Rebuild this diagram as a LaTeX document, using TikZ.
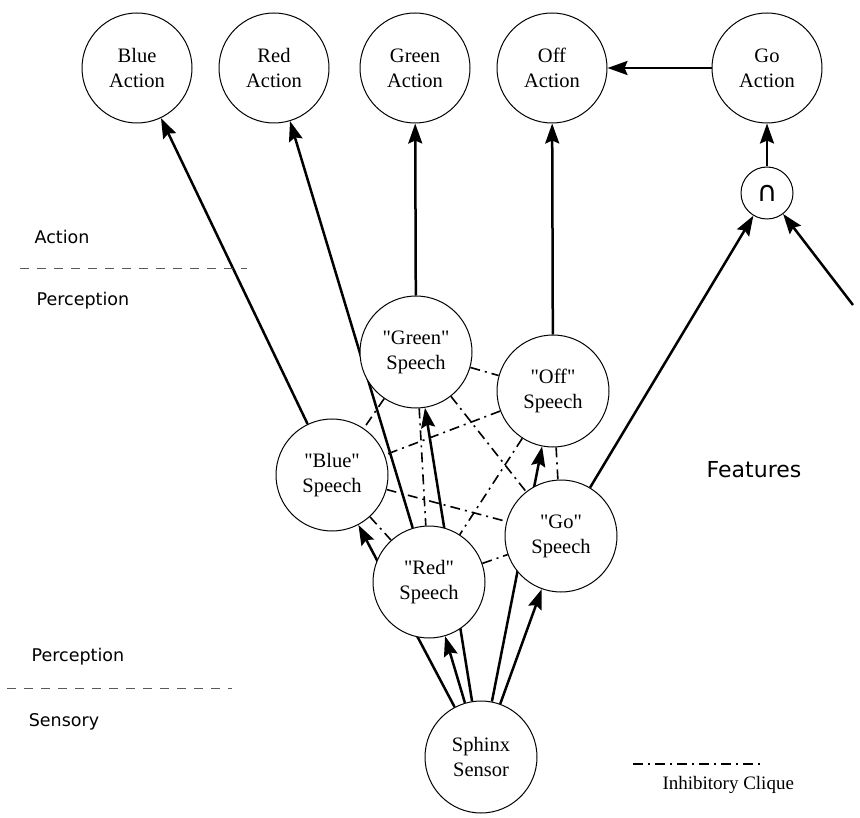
\documentclass[tikz,border=0pt]{standalone}
\usepackage{fontspec}
\setmainfont{Liberation Serif}[Ligatures=TeXOff]
\newfontfamily\labelfont{DejaVu Sans}
\usetikzlibrary{arrows.meta,backgrounds}
\begin{document}
\begin{tikzpicture}[x=1pt,y=-1pt,
  unit/.style={circle,draw,line width=1pt,fill=white,minimum size=112pt,
    inner sep=0pt,align=center,font=\fontsize{20.5}{25}\selectfont},
  actunit/.style={unit,minimum size=110pt},
  andunit/.style={circle,draw,line width=1pt,fill=white,minimum size=52pt,
    inner sep=0pt,font=\labelfont\fontsize{28}{28}\selectfont},
  link/.style={line width=2.5pt,-{Stealth[length=20pt,width=14pt,inset=3pt]}},
  clique/.style={line width=1.6pt,dash pattern=on 10pt off 5pt on 2pt off 5pt},
  layerline/.style={draw=black!65,line width=0.9pt,dash pattern=on 9pt off 8pt},
  levellabel/.style={font=\labelfont\fontsize{17.5}{20}\selectfont},
]
\useasboundingbox (0,0) rectangle (860,818);

% action units
\node[actunit] (blueA)  at (137,68) {Blue\\Action};
\node[actunit] (redA)   at (274,68) {Red\\Action};
\node[actunit] (greenA) at (415,68) {Green\\Action};
\node[actunit] (offA)   at (552,68) {Off\\Action};
\node[actunit] (goA)    at (767,68) {Go\\Action};
\node[andunit] (both)   at (767,193) {∩};

% speech percepts
\node[unit] (greenS) at (416,352) {"Green"\\Speech};
\node[unit] (offS)   at (553,391) {"Off"\\Speech};
\node[unit] (blueS)  at (332,475) {"Blue"\\Speech};
\node[unit] (goS)    at (561,536) {"Go"\\Speech};
\node[unit] (redS)   at (429,582) {"Red"\\Speech};

% sensor
\node[unit] (sphinx) at (481,757) {Sphinx\\Sensor};

% free end of the second input to the conjunction
\coordinate (ext) at (853,305);

% level labels and separators
\node[levellabel] (lAction) at (62,237) {Action};
\node[levellabel] (lPercA)  at (83,301) {Perception};
\node[levellabel] (lPercB)  at (78,657) {Perception};
\node[levellabel] (lSens)   at (64,722) {Sensory};
\node[font=\labelfont\fontsize{22}{26}\selectfont] (lFeat) at (754,470) {Features};
\coordinate (sepAa) at (20,268);  \coordinate (sepAb) at (247,268);
\coordinate (sepBa) at (7,688);   \coordinate (sepBb) at (232,688);
\draw[layerline] (sepAa) -- (sepAb);
\draw[layerline] (sepBa) -- (sepBb);

% legend
\coordinate (legA) at (633,764);
\coordinate (legB) at (760,764);
\draw[clique] (legA) -- (legB);
\node[anchor=west,font=\fontsize{19}{24}\selectfont] (legText) at (659,785) {Inhibitory Clique};

\begin{pgfonlayer}{background}
  % inhibitory clique among the speech percepts
  \foreach \a/\b in {greenS/offS,greenS/blueS,greenS/redS,greenS/goS,
                     offS/blueS,offS/redS,offS/goS,
                     blueS/redS,blueS/goS,redS/goS}
    \draw[clique] (\a) -- (\b);
  % sensor to percepts
  \draw[link] (sphinx) -- (blueS);
  \draw[link] (sphinx) -- (redS);
  \draw[link] (sphinx) -- (greenS);
  \draw[link] (sphinx) -- (offS);
  \draw[link] (sphinx) -- (goS);
  % percepts to actions
  \draw[link] (blueS) -- (blueA);
  \draw[link] (redS) -- (redA);
  \draw[link] (greenS) -- (greenA);
  \draw[link] (offS) -- (offA);
  \draw[link] (goS) -- (both);
  \draw[link] (ext) -- (both);
  \draw[link] (both) -- (goA);
  \draw[link] (goA) -- (offA);
\end{pgfonlayer}
\end{tikzpicture}
\end{document}
